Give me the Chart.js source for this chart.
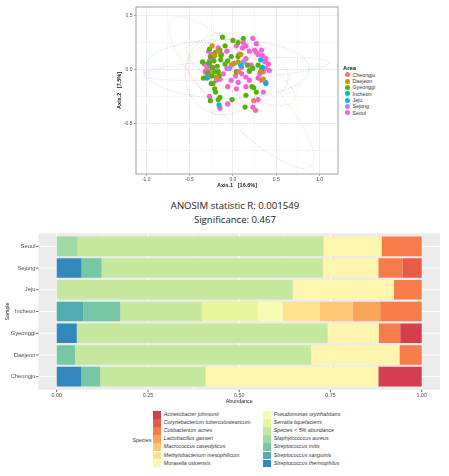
<!DOCTYPE html>
<html>
<head>
<meta charset="utf-8">
<script src="https://cdn.jsdelivr.net/npm/chart.js@4.4.1/dist/chart.umd.min.js"></script>
<style>
  body { margin: 0; background: #fff; width: 449px; height: 476px; position: relative; overflow: hidden; font-family: 'Liberation Sans', Arial, sans-serif; }
  .box { position: absolute; }
  .anosim { position: absolute; left: 0; width: 470px; text-align: center; font-family: 'Open Sans', 'Noto Sans', sans-serif; font-size: 9.6px; color: #222; line-height: 14px; }
  .leg { position: absolute; font-size: 5.3px; color: #333; white-space: nowrap; }
</style>
</head>
<body>
<div class="box" id="pcoaBox" style="left:105px;top:0;width:237px;height:192px"><canvas id="pcoa"></canvas></div>
<div id="areaLegend"></div>
<div class="anosim" style="top:199px">ANOSIM statistic R: 0.001549</div>
<div class="anosim" style="top:213px">Significance: 0.467</div>
<div class="box" id="barBox" style="left:0;top:226px;width:449px;height:182px"><canvas id="bars"></canvas></div>
<div id="speciesLegend"></div>
<script>
// ---- PCoA data ----
const areaNames = ['Cheongju', 'Daejeon', 'Gyeonggi', 'Incheon', 'Jeju', 'Sejong', 'Seoul'];
const areaColors = ['#F8766D', '#C49A00', '#53B400', '#00C094', '#00B6EB', '#A58AFF', '#FB61D7'];

const ptsCheongju = [[0.24, -0.29], [0.26, -0.38], [0.07, -0.02]];
const ptsDaejeon = [[-0.24, 0.22], [-0.17, 0.17], [-0.21, 0.13], [0.00, 0.05], [0.06, 0.07], [0.09, 0.14], [0.35, -0.09], [0.32, -0.02], [-0.19, -0.07]];
const ptsGyeonggi = [[-0.12, 0.30], [0.00, 0.27], [0.12, 0.29], [0.06, 0.25], [-0.09, 0.22], [-0.27, 0.19], [-0.15, 0.18],
  [-0.20, 0.16], [-0.26, 0.12], [-0.14, 0.13], [-0.35, 0.07], [-0.22, 0.08], [-0.28, 0.06], [-0.14, 0.09], [-0.09, 0.05],
  [-0.18, 0.03], [-0.24, 0.02], [-0.17, -0.02], [-0.21, -0.02], [-0.24, -0.06], [-0.16, -0.06], [-0.34, -0.08], [-0.29, -0.03],
  [-0.23, -0.13], [-0.25, -0.13], [-0.21, -0.18], [-0.20, -0.21], [-0.15, -0.26], [-0.17, -0.28], [-0.26, -0.29], [-0.01, -0.28],
  [0.14, -0.35], [0.15, -0.24], [0.22, -0.16], [0.24, -0.17], [0.27, -0.21], [0.17, 0.04], [0.19, -0.01], [0.23, 0.01],
  [0.29, 0.04], [0.06, 0.12], [-0.02, 0.12], [-0.06, 0.08], [0.04, -0.02]];
const ptsIncheon = [[0.33, 0.00]];
const ptsJeju = [[-0.27, 0.06], [-0.30, -0.08], [-0.16, -0.33], [0.32, 0.09], [0.34, 0.02], [0.38, -0.13], [0.09, 0.04]];
const ptsSejong = [[-0.04, 0.01], [0.13, 0.07], [0.02, 0.06]];
const ptsSeoul = [[0.23, 0.29], [0.12, 0.25], [0.15, 0.22], [0.19, 0.17], [0.25, 0.18], [0.27, 0.16], [0.33, 0.18], [0.29, 0.14],
  [0.34, 0.13], [0.38, 0.10], [0.37, 0.07], [0.41, 0.05], [0.38, 0.01], [0.42, -0.01], [0.35, -0.02], [0.31, -0.04], [0.29, -0.08],
  [0.33, -0.10], [0.38, -0.12], [0.35, -0.21], [0.29, -0.28], [0.23, -0.35], [-0.15, -0.36], [-0.06, -0.32], [0.04, -0.18],
  [-0.06, -0.16], [-0.02, -0.10], [0.03, -0.06], [-0.15, -0.09], [-0.11, -0.04], [-0.23, 0.02], [-0.27, 0.04], [-0.30, 0.01],
  [-0.32, -0.02], [-0.30, -0.04], [-0.27, -0.02], [-0.28, -0.07], [-0.19, -0.10], [-0.33, 0.05], [-0.27, 0.08], [-0.28, 0.17],
  [-0.25, 0.14], [-0.23, 0.10], [-0.17, 0.20], [0.15, 0.10], [0.12, 0.07], [0.07, 0.14], [0.10, 0.02], [-0.02, 0.04], [-0.07, 0.01],
  [0.10, -0.04], [0.15, -0.07], [0.19, -0.02], [0.21, 0.04], [0.06, -0.12], [0.15, -0.16], [0.19, -0.10], [-0.27, -0.25],
  [-0.07, 0.17], [-0.13, 0.14], [0.27, 0.24], [0.04, 0.22], [0.11, 0.20]];
const areaPoints = [ptsCheongju, ptsDaejeon, ptsGyeonggi, ptsIncheon, ptsJeju, ptsSejong, ptsSeoul];

// ellipse per area: centre and two half-axis vectors (data units); Incheon has none
const ellipseCenter = [[0.098, -0.214], [0.09, -0.04], [-0.113, -0.04], null, [-0.075, 0.006], [0.04, 0.006], [0.06, -0.02]];
const ellipseAxisA = [[0.803, -0.682], [0.619, -0.245], [0.44, 0], null, [0.956, 0], [1.07, 0.055], [0.574, -0.076]];
const ellipseAxisB = [[-0.237, -0.178], [-0.101, -0.164], [0, 0.38], null, [0, 0.275], [0, 0.092], [-0.057, -0.29]];

const pcoaXTicks = [-1, -0.75, -0.5, -0.25, 0, 0.25, 0.5, 0.75, 1];
const pcoaYTicks = [-0.75, -0.5, -0.25, 0, 0.25, 0.5];

// ---- bar data ----
const sampleNames = ['Seoul', 'Sejong', 'Jeju', 'Incheon', 'Gyeonggi', 'Daejeon', 'Cheongju'];
const speciesNames = ['Acinetobacter johnsonii', 'Corynebacterium tuberculostearicum', 'Cutibacterium acnes',
  'Lactobacillus gasseri', 'Macrococcus caseolyticus', 'Methylobacterium mesophilicum', 'Moraxella osloensis',
  'Pseudomonas oryzihabitans', 'Serratia liquefaciens', 'Species < 5% abundance', 'Staphylococcus aureus',
  'Streptococcus mitis', 'Streptococcus sanguinis', 'Streptococcus thermophilus'];
const speciesColors = ['#D53E4F', '#E85B48', '#F67C4A', '#FCA45C', '#FDC574', '#FEE28F', '#FFF5AF',
  '#F7FBB3', '#E8F69B', '#C6E89E', '#A1D9A4', '#76C8A5', '#52ACAE', '#3288BD'];
// values per sample, same order as sampleNames
const acinetobacter = [0, 0, 0, 0, 0.059, 0, 0.119];
const corynebacterium = [0, 0.052, 0, 0, 0, 0, 0];
const cutibacterium = [0.110, 0.067, 0.076, 0.114, 0.059, 0.061, 0];
const lactobacillus = [0, 0, 0, 0.075, 0, 0, 0];
const macrococcus = [0, 0, 0, 0.090, 0, 0, 0];
const methylobacterium = [0, 0, 0, 0.102, 0, 0, 0];
const moraxella = [0.159, 0.152, 0.277, 0, 0.140, 0.242, 0.473];
const pseudomonas = [0, 0, 0, 0.069, 0, 0, 0];
const serratia = [0, 0, 0, 0.152, 0, 0, 0];
const minorSpecies = [0.674, 0.606, 0.647, 0.224, 0.687, 0.647, 0.289];
const staphAureus = [0.057, 0, 0, 0, 0, 0, 0];
const strepMitis = [0, 0.055, 0, 0.101, 0, 0.050, 0.052];
const strepSanguinis = [0, 0, 0, 0.073, 0, 0, 0];
const strepThermophilus = [0, 0.068, 0, 0, 0.055, 0, 0.067];
const speciesValues = [acinetobacter, corynebacterium, cutibacterium, lactobacillus, macrococcus, methylobacterium,
  moraxella, pseudomonas, serratia, minorSpecies, staphAureus, strepMitis, strepSanguinis, strepThermophilus];

const barXTicks = [0, 0.25, 0.5, 0.75, 1];
const barMinorTicks = [0.125, 0.375, 0.625, 0.875];

const FONT = "'Liberation Sans', Arial, sans-serif";
const isMajor = v => Math.abs(v * 2 - Math.round(v * 2)) < 1e-9;
const withAlpha = (hex, a) => {
  const n = parseInt(hex.slice(1), 16);
  return `rgba(${n >> 16},${(n >> 8) & 255},${n & 255},${a})`;
};

// ---- PCoA scatter ----
const ellipsePlugin = {
  id: 'ellipses',
  afterDatasetsDraw(chart) {
    const {ctx, chartArea: ca, scales: {x, y}} = chart;
    ctx.save();
    ctx.beginPath();
    ctx.rect(ca.left, ca.top, ca.right - ca.left, ca.bottom - ca.top);
    ctx.clip();
    areaNames.forEach((name, i) => {
      const c = ellipseCenter[i];
      if (!c) return;
      const a = ellipseAxisA[i], b = ellipseAxisB[i];
      ctx.beginPath();
      for (let k = 0; k <= 160; k++) {
        const t = k / 160 * Math.PI * 2;
        const px = x.getPixelForValue(c[0] + a[0] * Math.cos(t) + b[0] * Math.sin(t));
        const py = y.getPixelForValue(c[1] + a[1] * Math.cos(t) + b[1] * Math.sin(t));
        k ? ctx.lineTo(px, py) : ctx.moveTo(px, py);
      }
      ctx.strokeStyle = withAlpha(areaColors[i], 0.4);
      ctx.lineWidth = 1;
      ctx.setLineDash([1, 1.5]);
      ctx.stroke();
    });
    ctx.restore();
  },
  afterDraw(chart) {
    const {ctx, chartArea: ca} = chart;
    ctx.save();
    ctx.strokeStyle = '#A0A0A0';
    ctx.lineWidth = 1;
    ctx.strokeRect(ca.left, ca.top, ca.right - ca.left, ca.bottom - ca.top);
    ctx.restore();
  }
};

const gridColor = c => isMajor(c.tick.value) ? '#EAEAEA' : '#F4F4F4';
const tickColor = c => isMajor(c.tick.value) ? '#999' : 'rgba(0,0,0,0)';

new Chart(document.getElementById('pcoa'), {
  type: 'scatter',
  data: {
    datasets: areaNames.map((name, i) => ({
      label: name,
      data: areaPoints[i].map(p => ({x: p[0], y: p[1]})),
      backgroundColor: areaColors[i],
      borderWidth: 0,
      pointRadius: 2.6
    }))
  },
  options: {
    responsive: true,
    maintainAspectRatio: false,
    animation: false,
    layout: {padding: {top: 7, right: 3}},
    plugins: {legend: {display: false}, tooltip: {enabled: false}},
    scales: {
      x: {
        type: 'linear', min: -1.118, max: 1.212,
        afterBuildTicks: s => { s.ticks = pcoaXTicks.map(v => ({value: v})); },
        afterFit: s => { s.height = 18; },
        grid: {color: gridColor, tickColor: tickColor, tickLength: 2, lineWidth: 0.8},
        border: {display: false},
        ticks: {autoSkip: false, maxRotation: 0, padding: 1, color: '#4D4D4D', font: {family: FONT, size: 5},
          callback: v => isMajor(v) ? v.toFixed(1) : ''},
        title: {display: true, text: 'Axis.1   [16.6%]', color: '#222', font: {family: FONT, size: 5.5, weight: 'bold'}, padding: {top: 0, bottom: 3}}
      },
      y: {
        type: 'linear', min: -0.972, max: 0.581,
        afterBuildTicks: s => { s.ticks = pcoaYTicks.map(v => ({value: v})); },
        afterFit: s => { s.width = 31; },
        grid: {color: gridColor, tickColor: tickColor, tickLength: 2, lineWidth: 0.8},
        border: {display: false},
        ticks: {autoSkip: false, padding: 1.5, color: '#4D4D4D', font: {family: FONT, size: 5},
          callback: v => isMajor(v) ? v.toFixed(1) : ''},
        title: {display: true, text: 'Axis.2   [7.5%]', color: '#222', font: {family: FONT, size: 5.5, weight: 'bold'}, padding: {top: 11, bottom: 0}}
      }
    }
  },
  plugins: [ellipsePlugin]
});

// area legend
const areaLeg = document.getElementById('areaLegend');
areaLeg.innerHTML = `<div class="leg" style="left:343px;top:65px;font-size:5.8px;font-weight:bold;color:#222">Area</div>` +
  areaNames.map((n, i) => {
    const top = 72.3 + i * 6.33;
    return `<div class="leg" style="left:345px;top:${top}px;width:5px;height:5px;border-radius:50%;background:${areaColors[i]}"></div>` +
      `<div class="leg" style="left:352.5px;top:${top - 0.5}px;line-height:6px">${n}</div>`;
  }).join('');

// ---- stacked bars ----
const panelPlugin = {
  id: 'panel',
  beforeDraw(chart) {
    const {ctx, chartArea: ca, scales: {x, y}} = chart;
    const slot = (ca.bottom - ca.top) / sampleNames.length;
    const top = ca.top - slot * 0.1, bottom = ca.bottom + slot * 0.1;
    ctx.save();
    ctx.fillStyle = '#EBEBEB';
    ctx.fillRect(ca.left, top, ca.right - ca.left, bottom - top);
    ctx.strokeStyle = '#FFFFFF';
    ctx.lineWidth = 0.5;
    barMinorTicks.forEach(v => {
      const px = x.getPixelForValue(v);
      ctx.beginPath(); ctx.moveTo(px, top); ctx.lineTo(px, bottom); ctx.stroke();
    });
    ctx.lineWidth = 1;
    barXTicks.forEach(v => {
      const px = x.getPixelForValue(v);
      ctx.beginPath(); ctx.moveTo(px, top); ctx.lineTo(px, bottom); ctx.stroke();
    });
    sampleNames.forEach((n, i) => {
      const py = y.getPixelForValue(i);
      ctx.beginPath(); ctx.moveTo(ca.left, py); ctx.lineTo(ca.right, py); ctx.stroke();
    });
    ctx.restore();
  },
  afterDraw(chart) {
    const {ctx, chartArea: ca, scales: {x, y}} = chart;
    const slot = (ca.bottom - ca.top) / sampleNames.length;
    const bottom = ca.bottom + slot * 0.1;
    ctx.save();
    ctx.strokeStyle = '#444';
    ctx.lineWidth = 0.8;
    barXTicks.forEach(v => {
      const px = x.getPixelForValue(v);
      ctx.beginPath(); ctx.moveTo(px, bottom); ctx.lineTo(px, bottom + 2.5); ctx.stroke();
    });
    sampleNames.forEach((n, i) => {
      const py = y.getPixelForValue(i);
      ctx.beginPath(); ctx.moveTo(ca.left - 2.5, py); ctx.lineTo(ca.left, py); ctx.stroke();
    });
    ctx.restore();
  }
};

new Chart(document.getElementById('bars'), {
  type: 'bar',
  data: {
    labels: sampleNames,
    datasets: speciesNames.map((n, i) => ({
      label: n,
      data: speciesValues[i],
      backgroundColor: speciesColors[i],
      borderWidth: 0,
      barPercentage: 0.9,
      categoryPercentage: 1
    })).reverse()
  },
  options: {
    indexAxis: 'y',
    responsive: true,
    maintainAspectRatio: false,
    animation: false,
    layout: {padding: {top: 9.5, right: 9}},
    plugins: {legend: {display: false}, tooltip: {enabled: false}},
    scales: {
      x: {
        stacked: true, min: -0.05, max: 1.05,
        afterBuildTicks: s => { s.ticks = barXTicks.map(v => ({value: v})); },
        afterFit: s => { s.height = 20.5; },
        grid: {display: false, drawTicks: false, tickLength: 0},
        border: {display: false},
        ticks: {autoSkip: false, maxRotation: 0, padding: 4.8, color: '#4D4D4D', font: {family: FONT, size: 5.3},
          callback: v => v.toFixed(2)},
        title: {display: true, text: 'Abundance', color: '#222', font: {family: FONT, size: 5.3}, padding: {top: 0, bottom: 3.3}}
      },
      y: {
        stacked: true,
        afterFit: s => { s.width = 38.45; },
        grid: {display: false, drawTicks: false, tickLength: 0},
        border: {display: false},
        ticks: {autoSkip: false, padding: 3, color: '#4D4D4D', font: {family: FONT, size: 5.8}},
        title: {display: true, text: 'Sample', color: '#222', font: {family: FONT, size: 5.3}, padding: {top: 4.3, bottom: 0}}
      }
    }
  },
  plugins: [panelPlugin]
});

// species legend (two columns of seven)
const spLeg = document.getElementById('speciesLegend');
let html = `<div class="leg" style="left:132.5px;top:436.5px;line-height:7px">Species</div>`;
speciesNames.forEach((n, i) => {
  const col = Math.floor(i / 7), row = i % 7;
  const top = 411 + row * 8.1;
  const sx = col ? 263.3 : 153.3;
  html += `<div class="leg" style="left:${sx}px;top:${top}px;width:7.6px;height:7.7px;background:${speciesColors[i]}"></div>`;
  html += `<div class="leg" style="left:${sx + 10.5}px;top:${top}px;line-height:7.7px;font-style:italic">${n.replace('<', '&lt;')}</div>`;
});
spLeg.innerHTML = html;
</script>
</body>
</html>
